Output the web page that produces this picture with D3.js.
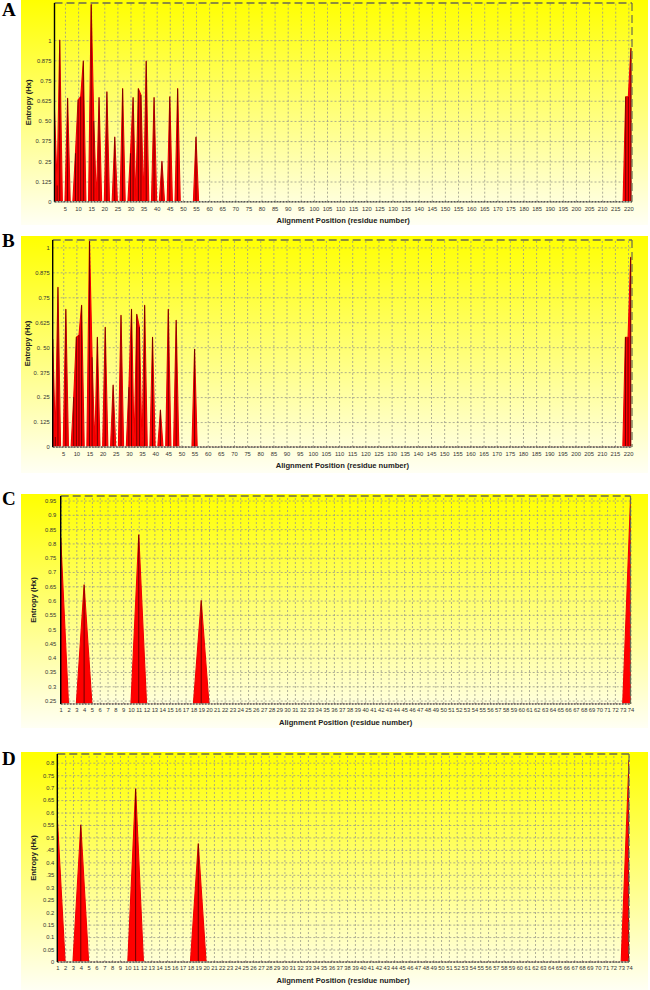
<!DOCTYPE html>
<html>
<head>
<meta charset="utf-8">
<script src="https://cdn.jsdelivr.net/npm/d3@7"></script>
<style>
  body { margin: 0; background: #fff; }
  svg { display: block; }
</style>
</head>
<body>
<svg id="chart" width="650" height="990"></svg>
<script>
// entropy values, positions not listed are 0
const posA = [1, 2, 3, 6, 9, 10, 11, 12, 15, 16, 18, 21, 24, 27, 30, 31, 33, 34, 36, 39, 42, 45, 48, 55, 219, 220, 221];
const entropyA = [0.57, 0.10, 1.0, 0.64, 0.30, 0.63, 0.65, 0.87, 1.22, 0.50, 0.645, 0.68, 0.40, 0.70, 0.30, 0.645, 0.70, 0.66, 0.87, 0.645, 0.25, 0.65, 0.70, 0.40, 0.65, 0.65, 0.95];

const posB = [1, 2, 3, 6, 9, 10, 11, 12, 15, 16, 18, 21, 24, 27, 30, 31, 33, 34, 36, 39, 42, 45, 48, 55, 219, 220, 221];
const entropyB = [0.54, 0.05, 0.80, 0.69, 0.25, 0.55, 0.56, 0.71, 1.03, 0.45, 0.55, 0.60, 0.31, 0.66, 0.30, 0.69, 0.665, 0.60, 0.71, 0.55, 0.185, 0.69, 0.635, 0.49, 0.55, 0.55, 0.95];

const posC = [1, 4, 11, 19, 74];
const entropyC = [0.82, 0.655, 0.83, 0.60, 0.955];

const posD = [1, 4, 11, 19, 74];
const entropyD = [0.58, 0.55, 0.695, 0.475, 0.81];

const xTicksAB = [5, 10, 15, 20, 25, 30, 35, 40, 45, 50, 55, 60, 65, 70, 75, 80, 85, 90, 95, 100, 105, 110,
    115, 120, 125, 130, 135, 140, 145, 150, 155, 160, 165, 170, 175, 180, 185, 190, 195, 200, 205, 210, 215, 220];
const xTicksCD = [1, 2, 3, 4, 5, 6, 7, 8, 9, 10, 11, 12, 13, 14, 15, 16, 17, 18, 19, 20, 21, 22, 23, 24, 25,
    26, 27, 28, 29, 30, 31, 32, 33, 34, 35, 36, 37, 38, 39, 40, 41, 42, 43, 44, 45, 46, 47, 48, 49, 50,
    51, 52, 53, 54, 55, 56, 57, 58, 59, 60, 61, 62, 63, 64, 65, 66, 67, 68, 69, 70, 71, 72, 73, 74];

const yTicksAB = [0, 0.125, 0.25, 0.375, 0.5, 0.625, 0.75, 0.875, 1];
const yLabelsAB = ["0", "0. 125", "0. 25", "0. 375", "0. 50", "0.625", "0.75", "0.875", "1"];
const yTicksC = [0.25, 0.3, 0.35, 0.4, 0.45, 0.5, 0.55, 0.6, 0.65, 0.7, 0.75, 0.8, 0.85, 0.9, 0.95];
const yLabelsC = ["0.25", "0.3", "0.35", "0.4", "0.45", "0.5", "0.55", "0.6", "0.65", "0.7", "0.75", "0.8", "0.85", "0.9", "0.95"];
const yTicksD = [0, 0.05, 0.1, 0.15, 0.2, 0.25, 0.3, 0.35, 0.4, 0.45, 0.5, 0.55, 0.6, 0.65, 0.7, 0.75, 0.8];
const yLabelsD = ["0", "0.05", "0.1", "0.15", "0.2", "0.25", "0.3", ".35", "0.4", ".45", "0.5", "0.55", "0.6", "0.65", "0.7", "0.75", "0.8"];

const panels = [
    { id: "A", pos: posA, vals: entropyA, length: 221, xTicks: xTicksAB, yTicks: yTicksAB, yLabels: yLabelsAB,
      bg: [21, 0, 627, 225], left: 54.5, right: 632, top: 3, bottom: 201.7, xMax: 221.4, yMin: 0, yMax: 1.23,
      letterY: 16, yTitleX: 31, xPad: 5, yPad: 3 },
    { id: "B", pos: posB, vals: entropyB, length: 221, xTicks: xTicksAB, yTicks: yTicksAB, yLabels: yLabelsAB,
      bg: [21, 236, 627, 237], left: 52.7, right: 632, top: 240, bottom: 447, xMax: 221.5, yMin: 0, yMax: 1.037,
      letterY: 247, yTitleX: 30, xPad: 5, yPad: 3 },
    { id: "C", pos: posC, vals: entropyC, length: 74, xTicks: xTicksCD, yTicks: yTicksC, yLabels: yLabelsC,
      bg: [21, 494, 627, 234], left: 60.7, right: 630.5, top: 496, bottom: 704, xMax: 74, yMin: 0.238, yMax: 0.966,
      letterY: 505, yTitleX: 36, xPad: 3.5, yPad: 4.5 },
    { id: "D", pos: posD, vals: entropyD, length: 74, xTicks: xTicksCD, yTicks: yTicksD, yLabels: yLabelsD,
      bg: [21, 752, 627, 238], left: 57.3, right: 629, top: 754, bottom: 962, xMax: 74, yMin: 0, yMax: 0.835,
      letterY: 765, yTitleX: 36, xPad: 4, yPad: 3 }
];

const svg = d3.select("#chart");
const defs = svg.append("defs");

panels.forEach(drawPanel);

function drawPanel(cfg) {
    const g = svg.append("g");
    const w = cfg.right - cfg.left;
    const h = cfg.bottom - cfg.top;

    const grad = defs.append("linearGradient")
        .attr("id", "bg" + cfg.id)
        .attr("x1", 0).attr("y1", 0).attr("x2", 0).attr("y2", 1);
    grad.append("stop").attr("offset", "0%").attr("stop-color", "#ffff00");
    grad.append("stop").attr("offset", "100%").attr("stop-color", "#fffff4");

    // clip slightly above the baseline so the outline never shows along it
    defs.append("clipPath").attr("id", "clip" + cfg.id)
        .append("rect")
        .attr("x", cfg.left).attr("y", cfg.top)
        .attr("width", w).attr("height", h - 0.8);

    g.append("rect")
        .attr("x", cfg.bg[0]).attr("y", cfg.bg[1])
        .attr("width", cfg.bg[2]).attr("height", cfg.bg[3])
        .attr("fill", `url(#bg${cfg.id})`);

    const x = d3.scaleLinear().domain([1, cfg.xMax]).range([cfg.left, cfg.right]);
    const y = d3.scaleLinear().domain([cfg.yMin, cfg.yMax]).range([cfg.bottom, cfg.top]);

    // dashed grid
    g.append("g")
        .attr("transform", `translate(0,${cfg.bottom})`)
        .call(d3.axisBottom(x).tickValues(cfg.xTicks).tickSize(-h).tickFormat(""))
        .call(s => s.select(".domain").remove())
        .selectAll("line")
        .attr("stroke", "#9a9a8a")
        .attr("stroke-width", 0.8)
        .attr("stroke-dasharray", "2,2");

    g.append("g")
        .attr("transform", `translate(${cfg.left},0)`)
        .call(d3.axisLeft(y).tickValues(cfg.yTicks).tickSize(-w).tickFormat(""))
        .call(s => s.select(".domain").remove())
        .selectAll("line")
        .attr("stroke", "#9a9a8a")
        .attr("stroke-width", 0.8)
        .attr("stroke-dasharray", "2,2");

    // entropy profile
    const lookup = new Map(cfg.pos.map((p, i) => [p, cfg.vals[i]]));
    const series = d3.range(1, cfg.length + 1).map(p => ({ p: p, v: lookup.get(p) || 0 }));

    const area = d3.area()
        .x(d => x(d.p))
        .y0(cfg.bottom)
        .y1(d => y(Math.max(d.v, cfg.yMin)));

    const plot = g.append("g").attr("clip-path", `url(#clip${cfg.id})`);

    plot.append("path")
        .datum(series)
        .attr("d", area)
        .attr("fill", "#ff0000")
        .attr("stroke", "#f00000")
        .attr("stroke-width", 1.1)
        .attr("stroke-linejoin", "round");

    plot.selectAll(".stick")
        .data(series.filter(d => d.v > 0))
        .join("line")
        .attr("class", "stick")
        .attr("x1", d => x(d.p)).attr("x2", d => x(d.p))
        .attr("y1", cfg.bottom)
        .attr("y2", d => y(d.v))
        .attr("stroke", "#000")
        .attr("stroke-opacity", 0.7)
        .attr("stroke-width", 0.8);

    // frame
    g.append("line")
        .attr("x1", cfg.left).attr("x2", cfg.right)
        .attr("y1", cfg.top).attr("y2", cfg.top)
        .attr("stroke", "#6a6a50").attr("stroke-width", 1.5)
        .attr("stroke-dasharray", "8,4");
    g.append("line")
        .attr("x1", cfg.right).attr("x2", cfg.right)
        .attr("y1", cfg.top).attr("y2", cfg.bottom)
        .attr("stroke", "#6a6a50").attr("stroke-width", 1.2)
        .attr("stroke-dasharray", "8,4");
    g.append("line")
        .attr("x1", cfg.left).attr("x2", cfg.right)
        .attr("y1", cfg.bottom).attr("y2", cfg.bottom)
        .attr("stroke", "#555").attr("stroke-width", 1.6)
        .attr("stroke-dasharray", "2,1");
    g.append("line")
        .attr("x1", cfg.left).attr("x2", cfg.left)
        .attr("y1", cfg.top).attr("y2", cfg.bottom)
        .attr("stroke", "#000").attr("stroke-width", 1.4);

    // tick labels
    g.append("g")
        .attr("transform", `translate(0,${cfg.bottom})`)
        .call(d3.axisBottom(x).tickValues(cfg.xTicks).tickSize(0).tickPadding(cfg.xPad))
        .call(s => s.select(".domain").remove())
        .selectAll("text")
        .attr("font-family", "Liberation Sans, Arial, sans-serif")
        .attr("font-size", 5.8)
        .attr("fill", "#333");

    g.append("g")
        .attr("transform", `translate(${cfg.left},0)`)
        .call(d3.axisLeft(y).tickValues(cfg.yTicks).tickSize(0).tickPadding(cfg.yPad)
            .tickFormat((d, i) => cfg.yLabels[i]))
        .call(s => s.select(".domain").remove())
        .selectAll("text")
        .attr("font-family", "Liberation Sans, Arial, sans-serif")
        .attr("font-size", 5.8)
        .attr("fill", "#333");

    // titles
    g.append("text")
        .attr("x", (cfg.left + cfg.right) / 2)
        .attr("y", cfg.bottom + 21)
        .attr("text-anchor", "middle")
        .attr("font-family", "Liberation Sans, Arial, sans-serif")
        .attr("font-size", 7.6)
        .attr("font-weight", "bold")
        .attr("fill", "#222")
        .text("Alignment Position (residue number)");

    g.append("text")
        .attr("transform", `translate(${cfg.yTitleX},${(cfg.top + cfg.bottom) / 2}) rotate(-90)`)
        .attr("text-anchor", "middle")
        .attr("font-family", "Liberation Sans, Arial, sans-serif")
        .attr("font-size", 7.6)
        .attr("font-weight", "bold")
        .attr("fill", "#222")
        .text("Entropy (Hx)");

    svg.append("text")
        .attr("x", 2)
        .attr("y", cfg.letterY)
        .attr("font-family", "Liberation Serif, Times New Roman, serif")
        .attr("font-size", 19)
        .attr("font-weight", "bold")
        .text(cfg.id);
}
</script>
</body>
</html>
